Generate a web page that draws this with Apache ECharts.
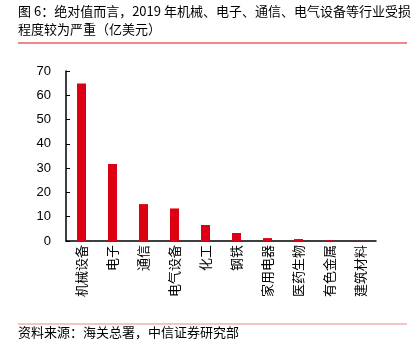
<!DOCTYPE html>
<html>
<head>
<meta charset="utf-8">
<script src="https://cdn.jsdelivr.net/npm/echarts@6/dist/echarts.min.js"></script>
<style>
html, body { margin: 0; padding: 0; background: #fff; }
#main { width: 412px; height: 351px; }
</style>
</head>
<body>
<div id="main"></div>
<script>
// 行业
var categories = ['机械设备', '电子', '通信', '电气设备', '化工', '钢铁', '家用电器', '医药生物', '有色金属', '建筑材料'];
// 受损金额（亿美元）
var values = [64.9, 31.7, 15.2, 13.4, 6.6, 3.3, 1.2, 0.8, 0.3, 0.05];
var yTicks = [0, 10, 20, 30, 40, 50, 60, 70];

var cjk = '"Noto Sans CJK SC", "Liberation Sans", sans-serif';

var chart = echarts.init(document.getElementById('main'));
chart.setOption({
	animation: false,
	grid: { left: 66, top: 71, right: 36, bottom: 110 },
	graphic: [
		{ type: 'text', left: 18, top: 5, style: { text: '图 6：绝对值而言，2019 年机械、电子、通信、电气设备等行业受损', font: '13px ' + cjk, fill: '#000' } },
		{ type: 'text', left: 18, top: 23, style: { text: '程度较为严重（亿美元）', font: '13px ' + cjk, fill: '#000' } },
		{ type: 'rect', shape: { x: 18, y: 42.5, width: 389, height: 1 }, style: { fill: '#e0121b' } },
		{ type: 'rect', shape: { x: 18, y: 323.5, width: 389, height: 1 }, style: { fill: '#e88a8a' } },
		{ type: 'text', left: 18, top: 326, style: { text: '资料来源：海关总署，中信证券研究部', font: '13px ' + cjk, fill: '#000' } }
	],
	xAxis: {
		type: 'category',
		data: categories,
		axisLine: { lineStyle: { color: '#000', width: 1.5 } },
		axisTick: { show: false },
		axisLabel: { rotate: 90, interval: 0, margin: 4, fontSize: 13, color: '#000', fontFamily: 'Noto Sans CJK SC' }
	},
	yAxis: {
		type: 'value',
		min: 0,
		max: 70,
		interval: 10,
		splitLine: { show: false },
		axisLine: { show: true, lineStyle: { color: '#000', width: 1.5 } },
		axisTick: { show: true, inside: true, length: 4, lineStyle: { color: '#000' } },
		axisLabel: {
			margin: 15,
			fontSize: 13,
			color: '#000',
			fontFamily: 'Liberation Sans',
			formatter: function (v) { return yTicks.indexOf(v) > -1 ? String(v) : ''; }
		}
	},
	series: [{
		type: 'bar',
		data: values,
		barWidth: 9,
		itemStyle: { color: '#dc0012' }
	}]
});
</script>
</body>
</html>
